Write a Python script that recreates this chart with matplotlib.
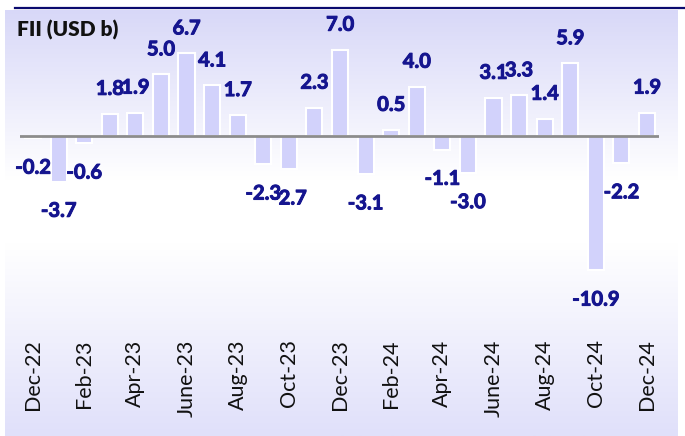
import matplotlib.pyplot as plt
import numpy as np
from matplotlib.colors import LinearSegmentedColormap
from matplotlib.lines import Line2D
import matplotlib.patheffects as pe

plt.rcParams['font.family'] = ['Lato', 'DejaVu Sans']

months = ['Dec-22', 'Jan-23', 'Feb-23', 'Mar-23', 'Apr-23', 'May-23', 'June-23',
          'Jul-23', 'Aug-23', 'Sep-23', 'Oct-23', 'Nov-23', 'Dec-23', 'Jan-24',
          'Feb-24', 'Mar-24', 'Apr-24', 'May-24', 'June-24', 'Jul-24', 'Aug-24',
          'Sep-24', 'Oct-24', 'Nov-24', 'Dec-24']
fii = [-0.2, -3.7, -0.6, 1.8, 1.9, 5.0, 6.7, 4.1, 1.7, -2.3, -2.7, 2.3, 7.0,
       -3.1, 0.5, 4.0, -1.1, -3.0, 3.1, 3.3, 1.4, 5.9, -10.9, -2.2, 1.9]
shown_ticks = months[::2]

label_col = '#15158f'
bar_col = '#d2d2fb'

fig = plt.figure(figsize=(6.85, 4.36), dpi=100)

# background panel with soft lavender gradient
bg = fig.add_axes([5 / 685, 0, 673 / 685, 426 / 436])
cmap = LinearSegmentedColormap.from_list(
    'bg', [(0.0, '#e0e0fa'), (0.45, '#ffffff'), (0.6, '#ffffff'), (1.0, '#d8d8f8')])
grad = np.linspace(0, 1, 256).reshape(-1, 1)
bg.imshow(grad, aspect='auto', cmap=cmap, extent=[0, 1, 0, 1], origin='lower')
bg.axis('off')

fig.add_artist(Line2D([15 / 685, 1], [428 / 436, 428 / 436], color='#0a0a6e', lw=1.6))

ax = fig.add_axes([20 / 685, 116 / 436, 639 / 685, 300 / 436])
ax.patch.set_alpha(0)
x = np.arange(len(fii))
ax.bar(x, fii, width=0.63, color=bar_col, edgecolor='white', linewidth=1.5, zorder=2)
ax.axhline(0, color='#8c8c8c', lw=2, zorder=3)

fatten = [pe.withStroke(linewidth=0.7, foreground=label_col)]
for i, v in zip(x, fii):
    off = 18 if v >= 0 else -21
    ax.annotate(f'{v:.1f}', (i, v), xytext=(0, off), textcoords='offset points',
                ha='center', va='center', fontsize=14.5, fontweight='bold',
                color=label_col, zorder=4, path_effects=fatten)

ax.set_xlim(-0.51, 24.47)
ax.set_ylim(-14.92, 9.41)
ax.set_xticks(x[::2])
ax.set_xticklabels(shown_ticks, rotation=90, fontsize=15.5, color='#111111')
ax.tick_params(axis='x', length=0, pad=14)
ax.set_yticks([])
for s in ax.spines.values():
    s.set_visible(False)

fig.text(17 / 685, 1 - 30 / 436, 'FII (USD b)', fontsize=15, fontweight='heavy',
         color='#111111', va='center', ha='left')

fig.savefig('out.png', dpi=100)
